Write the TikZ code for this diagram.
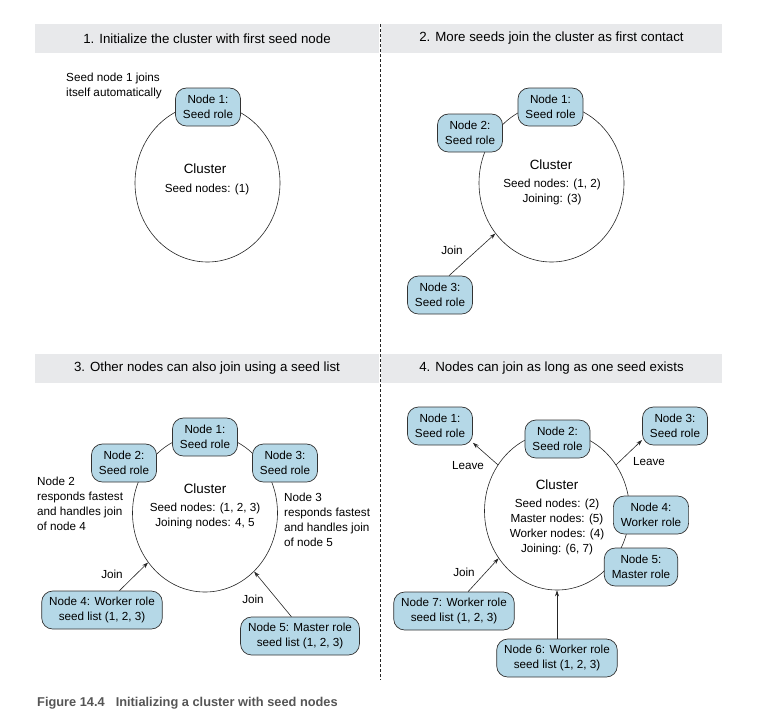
\documentclass[tikz,border=0pt]{standalone}
\usepackage{fontspec}
\setmainfont{Liberation Sans}
\usetikzlibrary{shapes.geometric, arrows.meta}
\definecolor{nodeBlue}{RGB}{181,216,231}
\definecolor{headGray}{RGB}{232,233,235}
\definecolor{captionGray}{RGB}{85,85,85}
\begin{document}
\begin{tikzpicture}[x=1pt, y=-1pt,
    every node/.style={font=\fontsize{11.7}{15}\selectfont},
    memberStyle/.style={rectangle, draw=black!80, line width=0.7pt, fill=nodeBlue, rounded corners=11pt, align=center, minimum height=38pt, inner xsep=7.5pt, inner ysep=0pt},
    clusterStyle/.style={ellipse, draw=black!85, line width=0.6pt, minimum width=145pt, minimum height=158pt, inner sep=0pt},
    headerStyle/.style={rectangle, fill=headGray, minimum height=29pt, inner sep=0pt, font=\fontsize{13.3}{16}\selectfont},
    titleStyle/.style={inner sep=0pt, font=\fontsize{13.4}{16}\selectfont},
    textStyle/.style={inner sep=0pt, align=center},
    noteStyle/.style={inner sep=0pt, align=left, anchor=west},
    arrowStyle/.style={->, draw=black!85, line width=0.6pt},
    >={Stealth[length=6pt, width=4pt]}]
    \useasboundingbox (0,0) rectangle (762,726);

    \node[headerStyle, minimum width=344pt](p1_head) at (207, 38.5) {1. Initialize the cluster with first seed node};
    \node[headerStyle, minimum width=341pt](p2_head) at (551.5, 38.5) {2. More seeds join the cluster as first contact};
    \node[headerStyle, minimum width=344pt](p3_head) at (207, 368.5) {3. Other nodes can also join using a seed list};
    \node[headerStyle, minimum width=341pt](p4_head) at (551.5, 368.5) {4. Nodes can join as long as one seed exists};
    \draw[black!85, line width=0.6pt, dash pattern=on 3pt off 2pt] (380, 24) -- (380, 680);

    \node[clusterStyle](p1_cl) at (207.5, 183) {};
    \node[titleStyle](p1_title) at (205, 169) {Cluster};
    \node[textStyle](p1_info) at (207, 189) {Seed nodes: (1)};
    \node[memberStyle](p1_n1) at (208, 107) {Node 1:\\Seed role};
    \node[noteStyle](p1_note) at (66, 86) {Seed node 1 joins\\itself automatically};

    \node[clusterStyle](p2_cl) at (551.5, 183) {};
    \node[titleStyle](p2_title) at (551, 165) {Cluster};
    \node[textStyle](p2_info) at (552, 192) {Seed nodes: (1, 2)\\Joining: (3)};
    \node[memberStyle](p2_n1) at (550.5, 107) {Node 1:\\Seed role};
    \node[memberStyle](p2_n2) at (470, 133) {Node 2:\\Seed role};
    \node[memberStyle](p2_n3) at (440, 295) {Node 3:\\Seed role};
    \node[textStyle](p2_join) at (452, 250) {Join};
    \draw[arrowStyle] (p2_n3.65) -- (p2_cl.222);

    \node[clusterStyle](p3_cl) at (205, 513) {};
    \node[titleStyle](p3_title) at (205, 489) {Cluster};
    \node[textStyle](p3_info) at (205, 515.5) {Seed nodes: (1, 2, 3)\\Joining nodes: 4, 5};
    \node[memberStyle](p3_n1) at (205, 437) {Node 1:\\Seed role};
    \node[memberStyle](p3_n2) at (124, 463) {Node 2:\\Seed role};
    \node[memberStyle](p3_n3) at (285, 463) {Node 3:\\Seed role};
    \node[memberStyle](p3_n4) at (102, 610) {Node 4: Worker role\\seed list (1, 2, 3)};
    \node[memberStyle](p3_n5) at (300, 636) {Node 5: Master role\\seed list (1, 2, 3)};
    \node[noteStyle](p3_note2) at (37, 503.5) {Node 2\\responds fastest\\and handles join\\of node 4};
    \node[noteStyle](p3_note3) at (284, 519.5) {Node 3\\responds fastest\\and handles join\\of node 5};
    \node[textStyle](p3_join4) at (112, 574) {Join};
    \node[textStyle](p3_join5) at (253, 599) {Join};
    \draw[arrowStyle] (p3_n4.48) -- (p3_cl.221);
    \draw[arrowStyle] (p3_n5.114) -- (p3_cl.310);

    \node[clusterStyle](p4_cl) at (557, 511) {};
    \node[titleStyle](p4_title) at (557, 485) {Cluster};
    \node[textStyle](p4_info) at (557, 526.5) {Seed nodes: (2)\\Master nodes: (5)\\Worker nodes: (4)\\Joining: (6, 7)};
    \node[memberStyle](p4_n1) at (440, 426) {Node 1:\\Seed role};
    \node[memberStyle](p4_n2) at (557.5, 439) {Node 2:\\Seed role};
    \node[memberStyle](p4_n3) at (675, 426) {Node 3:\\Seed role};
    \node[memberStyle](p4_n4) at (651, 515) {Node 4:\\Worker role};
    \node[memberStyle](p4_n5) at (641, 567) {Node 5:\\Master role};
    \node[memberStyle](p4_n7) at (454, 611) {Node 7: Worker role\\seed list (1, 2, 3)};
    \node[memberStyle](p4_n6) at (557, 658) {Node 6: Worker role\\seed list (1, 2, 3)};
    \node[textStyle](p4_leave1) at (468, 466) {Leave};
    \node[textStyle](p4_leave3) at (649, 462) {Leave};
    \node[textStyle](p4_join7) at (464, 572) {Join};
    \draw[arrowStyle] (p4_cl.142) -- (p4_n1.333);
    \draw[arrowStyle] (p4_cl.38) -- (p4_n3.203);
    \draw[arrowStyle] (p4_n7.54) -- (p4_cl.219);
    \draw[arrowStyle] (p4_n6.north) -- (p4_cl.south);

    \node[inner sep=0pt, anchor=west, text=captionGray, font=\bfseries\fontsize{12.8}{15}\selectfont](caption) at (37, 703) {Figure 14.4\hspace{11pt}Initializing a cluster with seed nodes};
\end{tikzpicture}
\end{document}
